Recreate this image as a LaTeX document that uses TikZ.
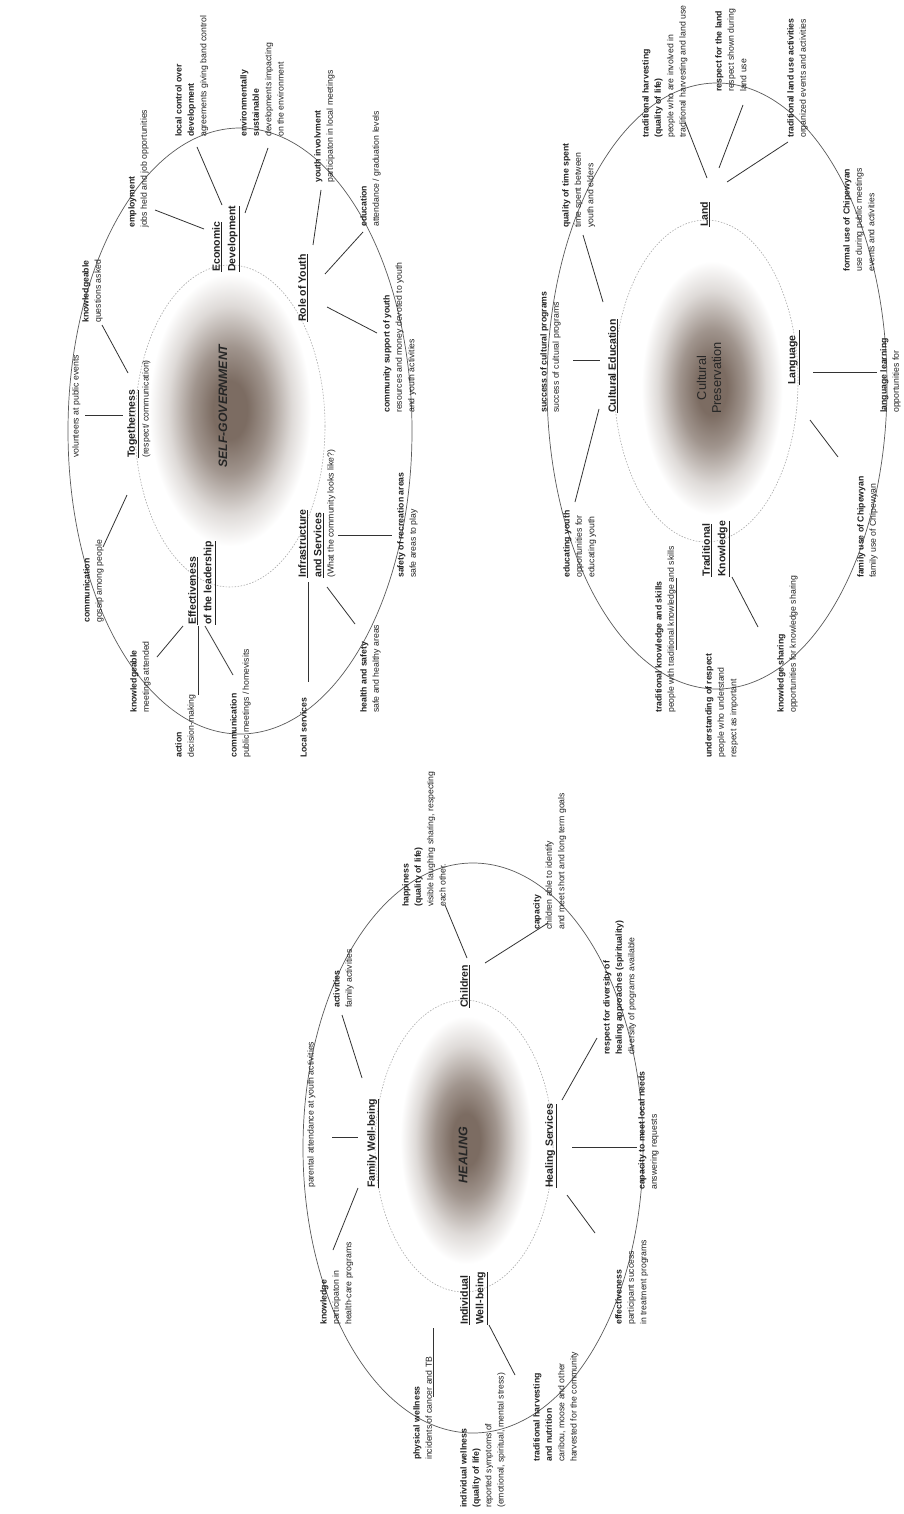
\documentclass[tikz,border=0pt]{standalone}
\usepackage{fontspec}
\setmainfont{Liberation Sans}
\usetikzlibrary{shapes.geometric}
\definecolor{txt}{HTML}{222222}
\definecolor{blobc}{RGB}{124,108,98}
\definecolor{ringc}{HTML}{5A5A5A}
\definecolor{innerc}{HTML}{AAAAAA}
\definecolor{connc}{HTML}{333333}
\pgfdeclareradialshading{blobshade}{\pgfpointorigin}{color(0bp)=(blobc);color(5bp)=(blobc);color(11bp)=(blobc!72!white);color(18bp)=(blobc!25!white);color(23.5bp)=(white);color(25bp)=(white);color(50bp)=(white)}
\begin{document}
\begin{tikzpicture}[x=1pt,y=-1pt,
 itm/.style={rotate=90,anchor=north west,align=left,inner sep=0pt,font=\fontsize{8.7}{12.4}\selectfont,text=txt},
 lbl/.style={rotate=90,anchor=north west,align=left,inner sep=0pt,font=\fontsize{10.5}{15.5}\selectfont\bfseries,text=txt},
 ttl/.style={rotate=90,align=center,inner sep=0pt,text=black!85},
 conn/.style={draw=connc,line width=0.8pt},
 outring/.style={ellipse,draw=ringc,line width=0.7pt,inner sep=0pt},
 inring/.style={ellipse,draw=innerc,line width=0.6pt,dash pattern=on 1.5pt off 1.5pt,inner sep=0pt}
]
\fill[white] (0,0) rectangle (903,1514);
\useasboundingbox (0,0) rectangle (903,1514);

% ================= SELF-GOVERNMENT =================
\shade[shading=blobshade] (230,410) ellipse [x radius=86, y radius=145];
\node[outring,minimum width=344pt,minimum height=606pt] (sgout) at (240,431) {};
\node[inring,minimum width=190pt,minimum height=322pt] (sgin) at (230,426) {};
\node[ttl,font=\fontsize{12.2}{14}\selectfont\bfseries\itshape] (sgt) at (223,406) {SELF-GOVERNMENT};

\node[lbl] (eco) at (212,272) {\underline{Economic}\\\underline{Development}};
\node[lbl] (roy) at (298,322) {\underline{Role of Youth}};
\node[lbl] (tog) at (127,458) {\underline{Togetherness}};
\node[itm] (togs) at (142,458) {(respect/ communication)};
\node[lbl] (eff) at (188,625) {\underline{Effectiveness}\\\underline{of the leadership}};
\node[lbl] (inf) at (298,578) {\underline{Infrastructure}\\\underline{and Services}};
\node[itm] (infs) at (327,578) {(What the community looks like?)};

\node[itm] (emp) at (128,228) {\textbf{employment}\\jobs held and job opportunities};
\node[itm] (lcd) at (175,137) {\textbf{local control over}\\\textbf{development}\\agreements giving band control};
\node[itm] (env) at (240,137) {\textbf{environmentally}\\\textbf{sustainable}\\developments impacting\\on the environment};
\node[itm] (yin) at (314,183) {\textbf{youth involvment}\\participaton in local meetings};
\node[itm] (edu) at (360,227) {\textbf{education}\\attendance / graduation levels};
\node[itm] (csy) at (383,413) {\textbf{community support of youth}\\resources and money devoted to youth\\and youth activities};
\node[itm] (vol) at (72,458) {volunteers at public events};
\node[itm] (kn1) at (82,323) {\textbf{knowledgeable}\\questions asked};
\node[itm] (com1) at (83,623) {\textbf{communication}\\gossip among people};
\node[itm] (kn2) at (130,713) {\textbf{knowledgeable}\\meetings attended};
\node[itm] (act) at (175,758) {\textbf{action}\\decision-making};
\node[itm] (com2) at (230,758) {\textbf{communication}\\public meetings / homevisits};
\node[itm] (loc) at (300,758) {\textbf{Local services}};
\node[itm] (has) at (360,713) {\textbf{health and safety}\\safe and healthy areas};
\node[itm] (sra) at (397,578) {\textbf{safety of recreation areas}\\safe areas to play};

\coordinate (s1a) at (155,210); \coordinate (s1b) at (204,229);
\coordinate (s2a) at (197,147); \coordinate (s2b) at (222,205);
\coordinate (s3a) at (268,148); \coordinate (s3b) at (245,213);
\coordinate (s4a) at (321,190); \coordinate (s4b) at (313,245);
\coordinate (s5a) at (363,232); \coordinate (s5b) at (325,274);
\coordinate (s6a) at (327,307); \coordinate (s6b) at (377,333);
\coordinate (s7a) at (85,415);  \coordinate (s7b) at (123,415);
\coordinate (s8a) at (102,325); \coordinate (s8b) at (128,373);
\coordinate (s9a) at (127,495); \coordinate (s9b) at (103,547);
\coordinate (s10a) at (183,626); \coordinate (s10b) at (157,657);
\coordinate (s11a) at (198,626); \coordinate (s11b) at (198,695);
\coordinate (s12a) at (205,626); \coordinate (s12b) at (233,675);
\coordinate (s13a) at (308,582); \coordinate (s13b) at (308,682);
\coordinate (s14a) at (327,587); \coordinate (s14b) at (355,624);
\coordinate (s15a) at (338,535); \coordinate (s15b) at (392,535);
\foreach \i in {1,...,15} {\draw[conn] (s\i a) -- (s\i b);}

% ================= CULTURAL PRESERVATION =================
\shade[shading=blobshade] (712,388) ellipse [x radius=75, y radius=135];
\node[outring,minimum width=340pt,minimum height=606pt] (cpout) at (717,386) {};
\node[inring,minimum width=184pt,minimum height=322pt] (cpin) at (706,381) {};
\node[ttl,font=\fontsize{12.8}{15}\selectfont] (cpt) at (709,378) {Cultural\\Preservation};

\node[lbl] (land) at (700,227) {\underline{Land}};
\node[lbl] (ced) at (608,413) {\underline{Cultural Education}};
\node[lbl] (lang) at (788,385) {\underline{Language\hspace{5pt}}};
\node[lbl] (tkn) at (702,577) {\underline{Traditional}\\\underline{Knowledge}};

\node[itm] (qts) at (562,228) {\textbf{quality of time spent}\\time spent between\\youth and elders};
\node[itm] (thv) at (642,138) {\textbf{traditional harvesting}\\\textbf{(quality of life)}\\people who are involved in\\traditional harvesting and land use};
\node[itm] (rfl) at (715,92) {\textbf{respect for the land}\\respect shown during\\land use};
\node[itm] (tlu) at (787,138) {\textbf{traditional land use activities}\\organized events and activities};
\node[itm] (fuc) at (843,272) {\textbf{formal use of Chipewyan}\\use during public meetings\\events and activities};
\node[itm] (scp) at (540,413) {\textbf{success of cultural programs}\\success of cultural programs};
\node[itm] (llr) at (880,413) {\textbf{language learning}\\opportunities for\\language learning};
\node[itm] (edy) at (563,578) {\textbf{educating youth}\\opportunities for\\educating youth};
\node[itm] (tks) at (655,713) {\textbf{traditional knowledge and skills}\\people with traditional knowledge and skills};
\node[itm] (uor) at (705,758) {\textbf{understanding of respect}\\people who understand\\respect as important};
\node[itm] (ksh) at (777,713) {\textbf{knowledge sharing}\\opportunities for knowledge sharing};
\node[itm] (fam) at (857,578) {\textbf{family use of Chipewyan}\\family use of Chipewyan};

\coordinate (c1a) at (583,235); \coordinate (c1b) at (603,302);
\coordinate (c2a) at (685,122); \coordinate (c2b) at (707,178);
\coordinate (c3a) at (743,105); \coordinate (c3b) at (719,168);
\coordinate (c4a) at (788,142); \coordinate (c4b) at (727,182);
\coordinate (c5a) at (573,360); \coordinate (c5b) at (600,360);
\coordinate (c6a) at (599,409); \coordinate (c6b) at (575,502);
\coordinate (c7a) at (813,372); \coordinate (c7b) at (877,372);
\coordinate (c8a) at (810,420); \coordinate (c8b) at (838,457);
\coordinate (c9a) at (676,578); \coordinate (c9b) at (676,650);
\coordinate (c10a) at (732,577); \coordinate (c10b) at (758,627);
\foreach \i in {1,...,10} {\draw[conn] (c\i a) -- (c\i b);}

% ================= HEALING =================
\shade[shading=blobshade] (466,1140) ellipse [x radius=70, y radius=132];
\node[outring,minimum width=340pt,minimum height=570pt] (heout) at (473,1148) {};
\node[inring,minimum width=178pt,minimum height=292pt] (hein) at (464,1146) {};
\node[ttl,font=\fontsize{12.5}{14}\selectfont\bfseries\itshape] (het) at (463,1155) {HEALING};

\node[lbl] (chi) at (460,1008) {\underline{Children}};
\node[lbl] (fwb) at (367,1188) {\underline{Family Well-being}};
\node[lbl] (hsv) at (545,1188) {\underline{Healing Services}};
\node[lbl] (iwb) at (460,1325) {\underline{Individual}\\\underline{Well-being}};

\node[itm] (hact) at (333,1008) {\textbf{activities}\\family activities};
\node[itm] (hap) at (402,907) {\textbf{happiness}\\\textbf{(quality of life)}\\visible laughing sharing, respecting\\each other.};
\node[itm] (hcap) at (533,930) {\textbf{capacity}\\children able to identify\\and meet short and long term goals};
\node[itm] (par) at (307,1188) {parental attendance at youth activities};
\node[itm] (hkno) at (320,1325) {\textbf{knowledge}\\participaton in\\health-care programs};
\node[itm] (phy) at (413,1460) {\textbf{physical wellness}\\incidents of cancer and TB};
\node[itm] (ind) at (460,1508) {\textbf{individual wellness}\\\textbf{(quality of life)}\\reported symptoms of\\(emotional, spiritual, mental stress)};
\node[itm] (thn) at (533,1462) {\textbf{traditional harvesting}\\\textbf{and nutrition}\\caribou, moose and other\\harvested for the community};
\node[itm] (rdv) at (603,1055) {\textbf{respect for diversity of}\\\textbf{healing approaches (spirituality)}\\diversity of programs available};
\node[itm] (cml) at (638,1190) {\textbf{capacity to meet local needs}\\answering requests};
\node[itm] (efn) at (615,1325) {\textbf{effectiveness}\\participant success\\in treatment programs};

\coordinate (h1a) at (445,905);  \coordinate (h1b) at (467,958);
\coordinate (h2a) at (548,923);  \coordinate (h2b) at (485,963);
\coordinate (h3a) at (342,1015); \coordinate (h3b) at (362,1078);
\coordinate (h4a) at (332,1137); \coordinate (h4b) at (358,1137);
\coordinate (h5a) at (358,1188); \coordinate (h5b) at (333,1250);
\coordinate (h6a) at (597,1038); \coordinate (h6b) at (562,1100);
\coordinate (h7a) at (572,1147); \coordinate (h7b) at (637,1147);
\coordinate (h8a) at (567,1195); \coordinate (h8b) at (595,1233);
\coordinate (h9a) at (433,1328); \coordinate (h9b) at (433,1397);
\coordinate (h10a) at (489,1325); \coordinate (h10b) at (515,1375);
\foreach \i in {1,...,10} {\draw[conn] (h\i a) -- (h\i b);}
\end{tikzpicture}
\end{document}
